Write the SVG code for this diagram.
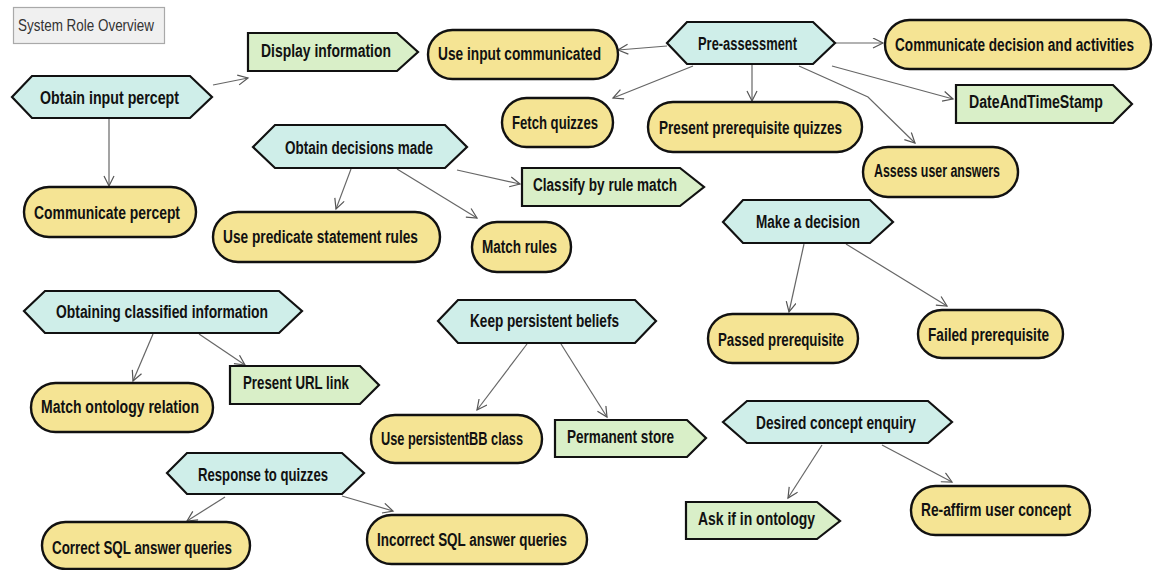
<svg xmlns="http://www.w3.org/2000/svg" width="1156" height="570" viewBox="0 0 1156 570">
<defs>
<marker id="arr" markerUnits="userSpaceOnUse" markerWidth="14" markerHeight="12" refX="11" refY="5.5" orient="auto">
<path d="M1,0.5 L11,5.5 L1,10.5" fill="none" stroke="#555" stroke-width="1.2"/>
</marker>
</defs>
<style>
.hex{fill:#cfeee9;stroke:#111;stroke-width:2.2;stroke-linejoin:miter}
.pent{fill:#d9efc8;stroke:#111;stroke-width:2.2}
.pill{fill:#f5e494;stroke:#111;stroke-width:2.4}
.t{font-family:"Liberation Sans",Arial,sans-serif;font-weight:bold;font-size:18px;fill:#111}
.c{fill:none;stroke:#666;stroke-width:1.2;marker-end:url(#arr)}
.title{font-family:"Liberation Sans",Arial,sans-serif;font-size:17px;fill:#333}
</style>
<rect width="1156" height="570" fill="#fff"/>
<g id="title">
<rect x="13.5" y="7.5" width="151" height="36" fill="#f0f0f0" stroke="#a9a9a9" stroke-width="1.2"/>
<text class="title" x="18" y="31" textLength="136" lengthAdjust="spacingAndGlyphs">System Role Overview</text>
</g>
<g id="connectors">
<line class="c" x1="109" y1="118" x2="109" y2="186"/>
<line class="c" x1="213" y1="85" x2="248" y2="78"/>
<line class="c" x1="351" y1="169" x2="336" y2="209"/>
<line class="c" x1="397" y1="169" x2="477" y2="218"/>
<line class="c" x1="457" y1="170" x2="520" y2="184"/>
<line class="c" x1="667" y1="46" x2="618" y2="50"/>
<line class="c" x1="693" y1="66" x2="613" y2="98"/>
<line class="c" x1="752" y1="65" x2="752" y2="101"/>
<line class="c" x1="835" y1="43" x2="883" y2="43"/>
<line class="c" x1="832" y1="66" x2="953" y2="99"/>
<polyline class="c" points="799,66 868,97 915,143"/>
<line class="c" x1="804" y1="244" x2="789" y2="312"/>
<line class="c" x1="846" y1="244" x2="947" y2="306"/>
<line class="c" x1="153" y1="334" x2="133" y2="381"/>
<line class="c" x1="199" y1="334" x2="245" y2="365"/>
<line class="c" x1="527" y1="344" x2="477" y2="410"/>
<line class="c" x1="561" y1="344" x2="607" y2="417"/>
<line class="c" x1="225" y1="497" x2="187" y2="521"/>
<line class="c" x1="342" y1="496" x2="393" y2="511"/>
<line class="c" x1="822" y1="445" x2="788" y2="498"/>
<line class="c" x1="882" y1="445" x2="952" y2="482"/>
</g>
<g id="n_obtain_input"><polygon class="hex" points="12,97 32,76 190,76 212,97 190,118 32,118"/><text class="t" x="40" y="104" textLength="139" lengthAdjust="spacingAndGlyphs">Obtain input percept</text></g>
<g id="n_obtain_decisions"><polygon class="hex" points="253,147 275,125 445,125 467,147 445,168 275,168"/><text class="t" x="285" y="154" textLength="148" lengthAdjust="spacingAndGlyphs">Obtain decisions made</text></g>
<g id="n_preassessment"><polygon class="hex" points="667,43 687,22 813,22 835,43 813,64 687,64"/><text class="t" x="698" y="50" textLength="99" lengthAdjust="spacingAndGlyphs">Pre-assessment</text></g>
<g id="n_make_decision"><polygon class="hex" points="723,222 743,200 870,200 893,222 870,243 743,243"/><text class="t" x="756" y="228" textLength="104" lengthAdjust="spacingAndGlyphs">Make a decision</text></g>
<g id="n_obtaining_classified"><polygon class="hex" points="24,311 45,291 279,291 302,311 279,333 45,333"/><text class="t" x="56" y="318" textLength="212" lengthAdjust="spacingAndGlyphs">Obtaining classified information</text></g>
<g id="n_keep_beliefs"><polygon class="hex" points="438,321 458,300 635,300 656,321 635,343 458,343"/><text class="t" x="470" y="327" textLength="149" lengthAdjust="spacingAndGlyphs">Keep persistent beliefs</text></g>
<g id="n_response"><polygon class="hex" points="167,473 187,453 342,453 364,473 342,494 187,494"/><text class="t" x="198" y="481" textLength="130" lengthAdjust="spacingAndGlyphs">Response to quizzes</text></g>
<g id="n_desired"><polygon class="hex" points="723,422 747,401 928,401 952,422 928,443 747,443"/><text class="t" x="756" y="429" textLength="160" lengthAdjust="spacingAndGlyphs">Desired concept enquiry</text></g>
<g id="n_display_info"><polygon class="pent" points="248,33 397,33 418,52 397,71 248,71"/><text class="t" x="261" y="57" textLength="130" lengthAdjust="spacingAndGlyphs">Display information</text></g>
<g id="n_classify"><polygon class="pent" points="522,168 680,168 704,187 680,206 522,206"/><text class="t" x="533" y="191" textLength="144" lengthAdjust="spacingAndGlyphs">Classify by rule match</text></g>
<g id="n_datetime"><polygon class="pent" points="956,85 1113,85 1132,104 1113,123 956,123"/><text class="t" x="969" y="108" textLength="134" lengthAdjust="spacingAndGlyphs">DateAndTimeStamp</text></g>
<g id="n_present_url"><polygon class="pent" points="230,366 360,366 379,385 360,404 230,404"/><text class="t" x="243" y="389" textLength="106" lengthAdjust="spacingAndGlyphs">Present URL link</text></g>
<g id="n_permanent_store"><polygon class="pent" points="555,420 687,420 706,438 687,457 555,457"/><text class="t" x="567" y="443" textLength="107" lengthAdjust="spacingAndGlyphs">Permanent store</text></g>
<g id="n_ask_ontology"><polygon class="pent" points="686,502 817,502 840,521 817,539 686,539"/><text class="t" x="698" y="525" textLength="117" lengthAdjust="spacingAndGlyphs">Ask if in ontology</text></g>
<g id="n_comm_percept"><rect class="pill" x="24" y="187" width="172" height="50" rx="25"/><text class="t" x="34" y="219" textLength="146" lengthAdjust="spacingAndGlyphs">Communicate percept</text></g>
<g id="n_predicate"><rect class="pill" x="213" y="212" width="227" height="50" rx="25"/><text class="t" x="223" y="243" textLength="195" lengthAdjust="spacingAndGlyphs">Use predicate statement rules</text></g>
<g id="n_match_rules"><rect class="pill" x="472" y="222" width="99" height="50" rx="25"/><text class="t" x="482" y="253" textLength="75" lengthAdjust="spacingAndGlyphs">Match rules</text></g>
<g id="n_use_input"><rect class="pill" x="428" y="30" width="190" height="49" rx="24.5"/><text class="t" x="438" y="60" textLength="163" lengthAdjust="spacingAndGlyphs">Use input communicated</text></g>
<g id="n_fetch"><rect class="pill" x="502" y="98" width="111" height="49" rx="24.5"/><text class="t" x="512" y="129" textLength="86" lengthAdjust="spacingAndGlyphs">Fetch quizzes</text></g>
<g id="n_present_prereq"><rect class="pill" x="648" y="102" width="214" height="50" rx="25"/><text class="t" x="659" y="134" textLength="183" lengthAdjust="spacingAndGlyphs">Present prerequisite quizzes</text></g>
<g id="n_comm_decision"><rect class="pill" x="885" y="20" width="266" height="49" rx="24.5"/><text class="t" x="895" y="51" textLength="239" lengthAdjust="spacingAndGlyphs">Communicate decision and activities</text></g>
<g id="n_assess"><rect class="pill" x="863" y="147" width="155" height="50" rx="25"/><text class="t" x="874" y="177" textLength="126" lengthAdjust="spacingAndGlyphs">Assess user answers</text></g>
<g id="n_passed"><rect class="pill" x="708" y="314" width="150" height="49" rx="24.5"/><text class="t" x="718" y="346" textLength="126" lengthAdjust="spacingAndGlyphs">Passed prerequisite</text></g>
<g id="n_failed"><rect class="pill" x="918" y="310" width="145" height="48" rx="24"/><text class="t" x="928" y="341" textLength="121" lengthAdjust="spacingAndGlyphs">Failed prerequisite</text></g>
<g id="n_match_ontology"><rect class="pill" x="31" y="383" width="182" height="49" rx="24.5"/><text class="t" x="41" y="413" textLength="158" lengthAdjust="spacingAndGlyphs">Match ontology relation</text></g>
<g id="n_persistentbb"><rect class="pill" x="371" y="415" width="171" height="48" rx="24"/><text class="t" x="381" y="445" textLength="142" lengthAdjust="spacingAndGlyphs">Use persistentBB class</text></g>
<g id="n_correct_sql"><rect class="pill" x="42" y="522" width="208" height="47" rx="23.5"/><text class="t" x="52" y="554" textLength="180" lengthAdjust="spacingAndGlyphs">Correct SQL answer queries</text></g>
<g id="n_incorrect_sql"><rect class="pill" x="367" y="515" width="220" height="49" rx="24.5"/><text class="t" x="377" y="546" textLength="190" lengthAdjust="spacingAndGlyphs">Incorrect SQL answer queries</text></g>
<g id="n_reaffirm"><rect class="pill" x="911" y="486" width="179" height="49" rx="24.5"/><text class="t" x="921" y="516" textLength="150" lengthAdjust="spacingAndGlyphs">Re-affirm user concept</text></g>
</svg>
